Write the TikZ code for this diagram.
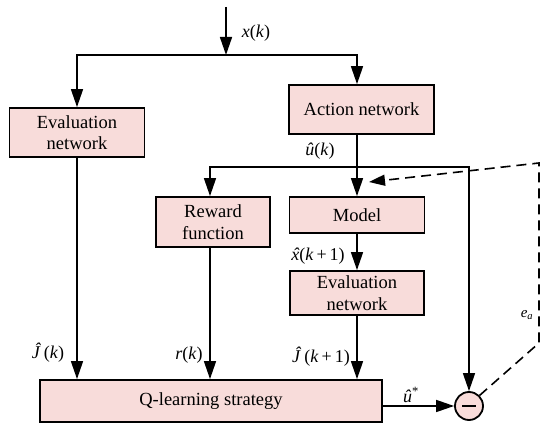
\documentclass[tikz,border=0pt]{standalone}
\usepackage{fontspec}
\setmainfont{Liberation Serif}
\usetikzlibrary{arrows.meta,calc}
\definecolor{BoxClr}{rgb}{0.973,0.863,0.855}
\newcommand{\hatx}{\textit{\makebox[0pt][l]{\hspace{1.6pt}ˆ}x}}

\begin{document}
\begin{tikzpicture}[x=1pt,y=-1pt,
  blk/.style={draw,line width=1.8pt,fill=BoxClr,align=center,inner sep=0pt,
    font=\fontsize{18.5}{21.5}\selectfont},
  lnk/.style={line width=1.6pt},
  arr/.style={lnk,-{Triangle[length=18pt,width=12pt]}},
  dsh/.style={lnk,dash pattern=on 10pt off 6pt,-{Triangle[length=16pt,width=11pt]}},
  lbl/.style={font=\fontsize{18}{20}\selectfont,inner sep=1pt}]
\useasboundingbox (0,0) rectangle (550,430);

% blocks
\node[blk,minimum width=135pt,minimum height=49pt] (evalA) at (77,132.5) {Evaluation\\network};
\node[blk,minimum width=145pt,minimum height=49pt] (act) at (361.5,109.5) {Action network};
\node[blk,minimum width=114pt,minimum height=50pt] (reward) at (213,222) {Reward\\function};
\node[blk,minimum width=135pt,minimum height=36pt] (model) at (357,215) {Model};
\node[blk,minimum width=134pt,minimum height=44pt] (evalB) at (357,293) {Evaluation\\network};
\node[blk,minimum width=342pt,minimum height=42pt] (Q) at (211,401) {Q-learning strategy};
\node[draw,circle,line width=1.8pt,fill=BoxClr,minimum size=28pt,inner sep=0pt] (sum) at (469,406) {};
\draw[line width=2.2pt] ([xshift=-7pt]sum.center) -- ([xshift=7pt]sum.center);

\coordinate (in) at (226,7);
\coordinate (split) at (226,55);
\coordinate (actin) at (357,55);
\coordinate (brM) at (357,167);
\coordinate (brL) at (210,167);
\coordinate (brR) at (469,167);
\coordinate (dA) at (539,163);
\coordinate (dB) at (539,343);
\coordinate (dT) at (369,182);

% connectors
\draw[arr] (in) -- (split);
\draw[arr] (split) -| (evalA.north);
\draw[arr] (split) -- (actin) -- (actin |- act.north);
\draw[arr] (act.south -| brM) -- (model.north);
\draw[arr] (brM) -- (brL) -- (brL |- reward.north);
\draw[arr] (brM) -- (brR) -- (sum.north);
\draw[arr] (model) -- (evalB);
\draw[arr] (evalA) -- (evalA |- Q.north);
\draw[arr] (reward.south -| brL) -- (brL |- Q.north);
\draw[arr] (evalB) -- (evalB |- Q.north);
\draw[arr] (Q.east |- sum) -- (sum.west);
\draw[dsh] (sum.45) -- (dB) -- (dA) -- (dT);

% labels
\node[lbl] (xk) at (256,33) {\textit{x}(\textit{k})};
\node[lbl] (uk) at (320,151) {\textit{û}(\textit{k})};
\node[lbl] (xk1) at (318,256) {\hatx(\textit{k}\,+\,1)};
\node[lbl] (Jk) at (48,353) {\textit{Ĵ}\,(\textit{k})};
\node[lbl] (rk) at (189,355) {\textit{r}(\textit{k})};
\node[lbl] (Jk1) at (321,357) {\textit{Ĵ}\,(\textit{k}\,+\,1)};
\node[lbl] (us) at (411,395) {\textit{û}\textsuperscript{*}};
\node[font=\fontsize{15}{18}\selectfont] (ea) at (527,315) {\textit{e}\textsubscript{\textit{a}}};
\end{tikzpicture}
\end{document}
